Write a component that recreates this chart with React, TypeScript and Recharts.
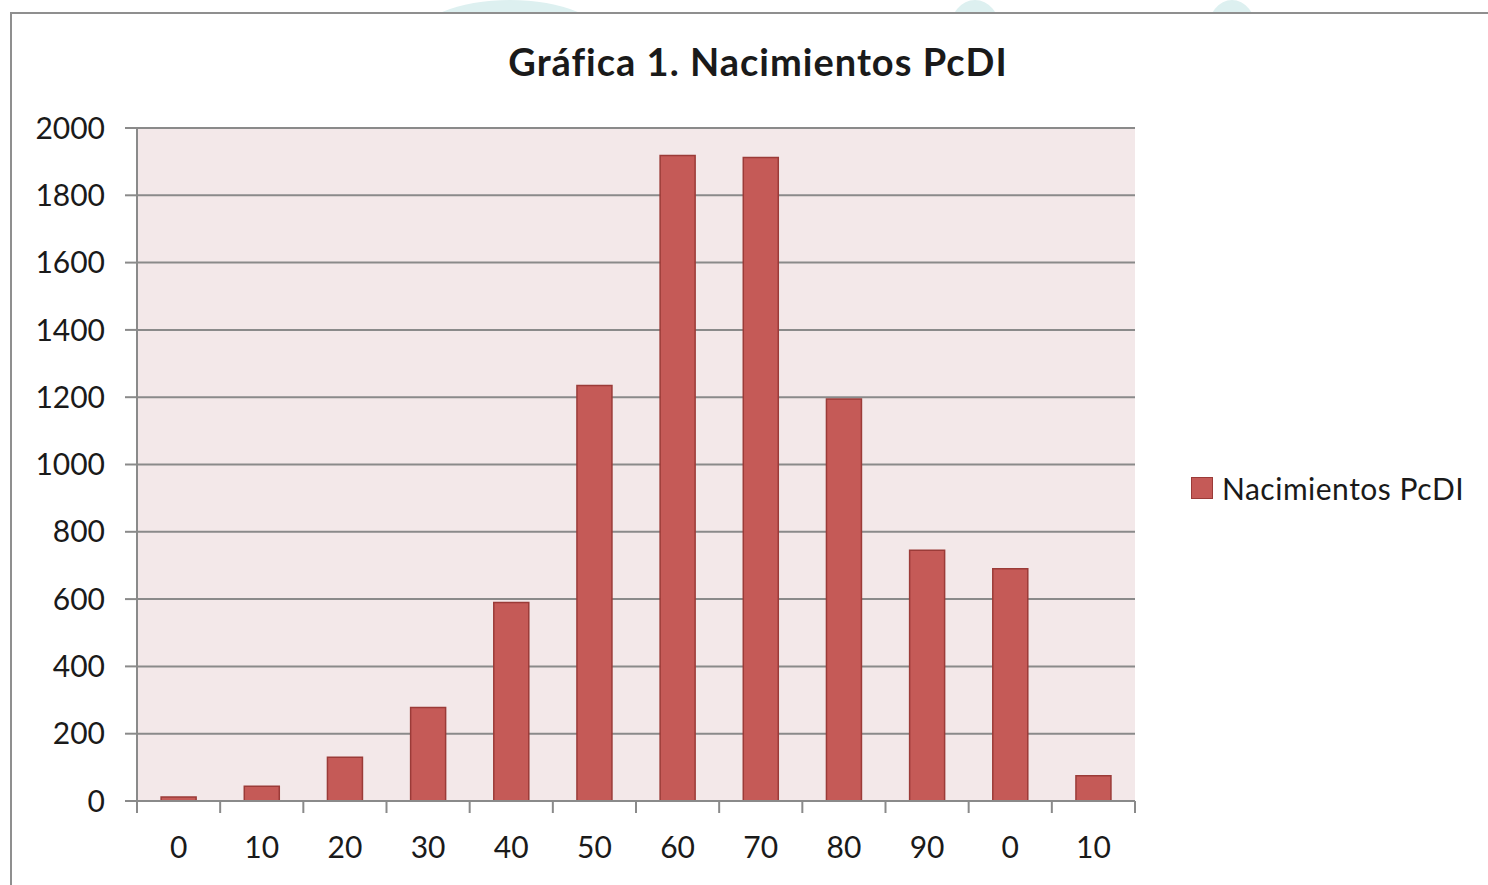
import React from "react";
import {
  Bar,
  BarChart,
  CartesianGrid,
  XAxis,
  YAxis,
} from "recharts";

// values
const categories = ["0", "10", "20", "30", "40", "50", "60", "70", "80", "90", "0", "10"];
const births = [12, 44, 130, 278, 590, 1235, 1918, 1912, 1195, 745, 690, 75];
const yTicks = [0, 200, 400, 600, 800, 1000, 1200, 1400, 1600, 1800, 2000];

const seriesName = "Nacimientos PcDI";
const title = "Gráfica 1. Nacimientos PcDI";

const data = categories.map((label, i) => ({ key: `c${i}`, label, value: births[i] }));

const W = 1488;
const H = 885;
const PLOT_LEFT = 137;
const PLOT_RIGHT = 1135;
const PLOT_TOP = 128;
const PLOT_BOTTOM = 801;
const BAND = (PLOT_RIGHT - PLOT_LEFT) / categories.length;

const font = "Lato, 'Open Sans', sans-serif";
const textColor = "#1a1a1a";
const axisColor = "#8a8a8a";
const barFill = "#C55A57";
const barStroke = "#9B3B38";

function XTick(props: any) {
  const { x, index } = props;
  const left = x - BAND / 2;
  const isLast = index === categories.length - 1;
  return (
    <g>
      <line x1={left} x2={left} y1={PLOT_BOTTOM} y2={PLOT_BOTTOM + 12} stroke={axisColor} strokeWidth={2} />
      {isLast && (
        <line x1={left + BAND} x2={left + BAND} y1={PLOT_BOTTOM} y2={PLOT_BOTTOM + 12} stroke={axisColor} strokeWidth={2} />
      )}
      <text x={x} y={PLOT_BOTTOM + 57} textAnchor="middle" fill={textColor} fontSize={30} fontFamily={font}>
        {categories[index]}
      </text>
    </g>
  );
}

function LegendBox() {
  return (
    <div
      style={{
        position: "absolute",
        left: 1191,
        top: 470,
        display: "flex",
        alignItems: "center",
        fontFamily: font,
        fontSize: 30,
        letterSpacing: 0.5,
        color: textColor,
        whiteSpace: "nowrap",
      }}
    >
      <span
        style={{
          display: "inline-block",
          width: 20,
          height: 20,
          background: barFill,
          border: `1px solid ${barStroke}`,
          marginRight: 9,
        }}
      />
      <span>{seriesName}</span>
    </div>
  );
}

export default function App() {
  return (
    <div style={{ position: "absolute", left: 0, top: 0, width: W, height: H, overflow: "hidden", background: "#fff" }}>
      {/* faint watermark shapes above the chart frame */}
      <svg width={W} height={14} style={{ position: "absolute", left: 0, top: 0 }}>
        <ellipse cx={510} cy={40} rx={95} ry={40} fill="#DDF0F0" />
        <ellipse cx={975} cy={30} rx={25} ry={30} fill="#DDF0F0" />
        <ellipse cx={1232} cy={30} rx={24} ry={30} fill="#DDF0F0" />
      </svg>
      <div
        style={{
          position: "absolute",
          left: 10,
          top: 12,
          width: W,
          height: H,
          border: "2px solid #8f8f8f",
          background: "#fff",
        }}
      />
      <div
        style={{
          position: "absolute",
          left: 0,
          top: 38,
          width: 1516,
          textAlign: "center",
          fontFamily: font,
          fontWeight: 700,
          fontSize: 38,
          letterSpacing: 1,
          color: textColor,
        }}
      >
        {title}
      </div>
      <div style={{ position: "absolute", left: 0, top: 0 }}>
        <BarChart
          width={W}
          height={H}
          data={data}
          margin={{ top: PLOT_TOP, right: W - PLOT_RIGHT, bottom: 0, left: 0 }}
          barCategoryGap="29%"
        >
          <CartesianGrid vertical={false} stroke={axisColor} strokeWidth={2} fill="#F3E8E9" fillOpacity={1} />
          <XAxis
            dataKey="key"
            height={H - PLOT_BOTTOM}
            axisLine={{ stroke: axisColor, strokeWidth: 2 }}
            tickLine={false}
            tick={<XTick />}
            interval={0}
          />
          <YAxis
            width={PLOT_LEFT}
            domain={[0, 2000]}
            ticks={yTicks}
            interval={0}
            axisLine={{ stroke: axisColor, strokeWidth: 2 }}
            tickLine={{ stroke: axisColor, strokeWidth: 2 }}
            tickSize={12}
            tickMargin={20}
            tick={{ fill: textColor, fontSize: 30, fontFamily: font }}
          />
          <Bar
            dataKey="value"
            name={seriesName}
            fill={barFill}
            stroke={barStroke}
            strokeWidth={1.5}
            isAnimationActive={false}
          />
        </BarChart>
      </div>
      <LegendBox />
    </div>
  );
}
